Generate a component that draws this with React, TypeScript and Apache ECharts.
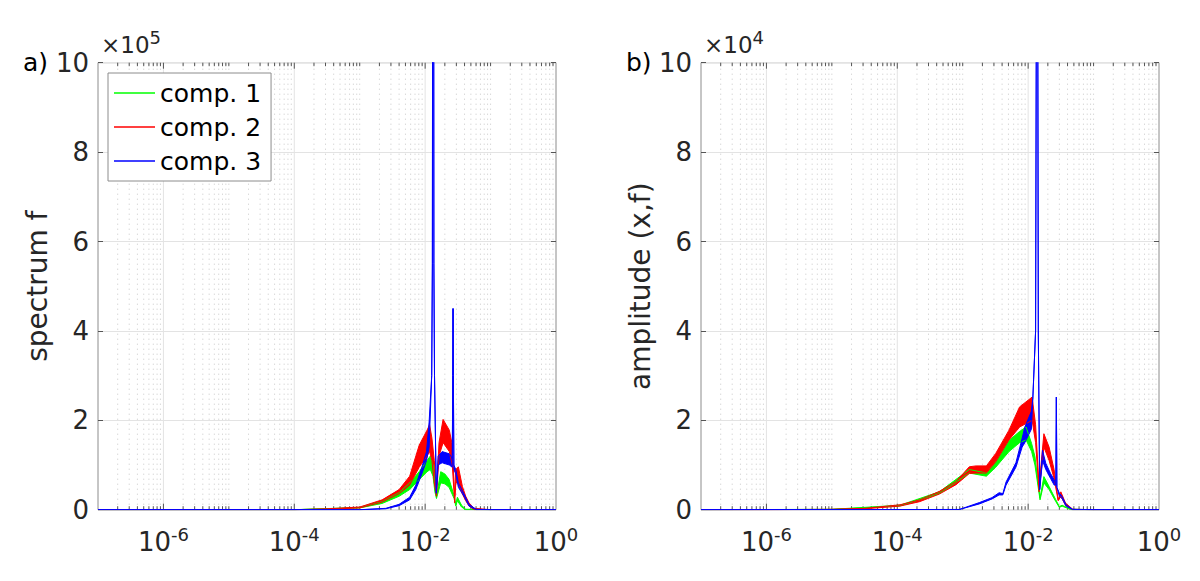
import React, { useEffect, useRef } from "react";
import * as echarts from "echarts";

// ---------------- Panel a) spectrum f (values in units of 1e5) ----------------
const A_C1_F = [1e-7, 1e-4, 1e-3, 2.2e-3, 4.0e-3, 5.8e-3, 8.1e-3, 0.0107, 0.012, 0.0132, 0.0141, 0.0149, 0.0173, 0.02, 0.0232, 0.0277, 0.0294, 0.0311, 0.036, 0.0417, 0.1, 1];
const A_C1_LO = [0, 0, 0.04, 0.14, 0.3, 0.45, 0.67, 0.85, 0.9, 0.75, 0.4, 0.25, 0.6, 0.58, 0.5, 0.25, 0.08, 0.2, 0.06, 0, 0, 0];
const A_C1_HI = [0, 0, 0.05, 0.18, 0.38, 0.6, 0.85, 1.1, 1.2, 1.0, 0.6, 0.3, 0.85, 0.8, 0.68, 0.32, 0.12, 0.28, 0.1, 0.01, 0, 0];

const A_C2_F = [1e-7, 1e-4, 3.2e-4, 1e-3, 2.2e-3, 4.0e-3, 5.8e-3, 8.1e-3, 0.0107, 0.0117, 0.0127, 0.0138, 0.0149, 0.0163, 0.0188, 0.0234, 0.026, 0.0283, 0.0294, 0.0322, 0.0371, 0.0417, 0.0469, 0.0559, 0.1, 1];
const A_C2_LO = [0, 0, 0.01, 0.04, 0.17, 0.36, 0.55, 0.95, 1.2, 1.3, 1.1, 0.6, 0.3, 1.2, 1.5, 1.3, 1.0, 0.15, 0.6, 0.6, 0.35, 0.2, 0.08, 0, 0, 0];
const A_C2_HI = [0, 0, 0.02, 0.06, 0.22, 0.45, 0.75, 1.44, 1.78, 1.9, 1.6, 1.1, 0.4, 1.5, 2.02, 1.78, 1.45, 0.3, 0.9, 0.96, 0.52, 0.3, 0.15, 0.03, 0, 0];

const A_C3_F = [1e-7, 1e-3, 2.5e-3, 4.0e-3, 5.8e-3, 7.2e-3, 8.9e-3, 0.0105, 0.0115, 0.0126, 0.0129, 0.0133, 0.0136, 0.0139, 0.0148, 0.0158, 0.0182, 0.0234, 0.026, 0.0264, 0.0267, 0.027, 0.0275, 0.0294, 0.0322, 0.04, 0.0469, 0.06, 0.1, 1];
const A_C3_LO = [0, 0, 0.02, 0.09, 0.22, 0.45, 0.8, 1.1, 1.4, 3.0, 5.5, 30, 5.5, 3.0, 0.37, 1.0, 1.05, 1.0, 0.95, 3.0, 4.5, 3.0, 0.9, 0.8, 0.5, 0.28, 0.08, 0, 0, 0];
const A_C3_HI = [0, 0, 0.03, 0.12, 0.28, 0.55, 0.95, 1.3, 1.96, 3.0, 5.5, 30, 5.5, 3.0, 0.37, 1.2, 1.3, 1.25, 1.15, 3.0, 4.5, 3.0, 1.0, 0.9, 0.6, 0.33, 0.12, 0.01, 0, 0];

// ---------------- Panel b) amplitude (x,f) (values in units of 1e4) ----------------
const B_C1_F = [1e-7, 1e-5, 1.1e-4, 4.4e-4, 1.26e-3, 2.3e-3, 3.2e-3, 5.1e-3, 7.4e-3, 0.0093, 0.0113, 0.0127, 0.0152, 0.0174, 0.0209, 0.0265, 0.03, 0.033, 0.045, 0.1, 1];
const B_C1_LO = [0, 0.006, 0.085, 0.36, 0.82, 0.75, 0.95, 1.3, 1.5, 1.56, 1.3, 1.0, 0.22, 0.6, 0.45, 0.18, 0.05, 0.08, 0, 0, 0];
const B_C1_HI = [0, 0.008, 0.1, 0.4, 0.9, 0.82, 1.07, 1.55, 1.75, 1.85, 1.48, 1.19, 0.26, 0.74, 0.52, 0.22, 0.07, 0.1, 0.01, 0, 0];

const B_C2_F = [1e-7, 1e-6, 1e-5, 3.2e-5, 1.1e-4, 2.2e-4, 4.4e-4, 7.9e-4, 1.26e-3, 1.6e-3, 2.3e-3, 3.2e-3, 5.1e-3, 7.4e-3, 0.01, 0.0115, 0.013, 0.0147, 0.0174, 0.0209, 0.0249, 0.0288, 0.0316, 0.0372, 0.048, 0.1, 1];
const B_C2_LO = [0, 0, 0.005, 0.02, 0.08, 0.18, 0.35, 0.56, 0.81, 0.82, 0.82, 1.07, 1.56, 1.85, 1.95, 2.0, 1.5, 0.4, 1.4, 1.1, 0.7, 0.2, 0.3, 0.1, 0, 0, 0];
const B_C2_HI = [0, 0, 0.01, 0.03, 0.11, 0.22, 0.41, 0.63, 0.96, 0.98, 0.98, 1.26, 1.78, 2.3, 2.45, 2.52, 1.9, 0.52, 1.7, 1.4, 0.9, 0.22, 0.4, 0.15, 0.01, 0, 0];

const B_C3_F = [1e-7, 8.9e-4, 1.8e-3, 2.8e-3, 3.6e-3, 4.1e-3, 4.6e-3, 6.5e-3, 8.1e-3, 8.9e-3, 0.0112, 0.0118, 0.013, 0.0134, 0.0137, 0.014, 0.0143, 0.015, 0.0166, 0.0186, 0.022, 0.025, 0.0265, 0.027, 0.0275, 0.03, 0.033, 0.038, 0.048, 0.1, 1];
const B_C3_LO = [0, 0.005, 0.13, 0.24, 0.33, 0.33, 0.55, 0.95, 1.4, 1.5, 1.8, 2.5, 4.0, 12, 30, 12, 4.0, 0.45, 1.1, 0.9, 0.7, 0.55, 0.55, 2.52, 0.5, 0.3, 0.25, 0.08, 0, 0, 0];
const B_C3_HI = [0, 0.005, 0.16, 0.27, 0.38, 0.36, 0.62, 1.05, 1.6, 1.85, 2.2, 2.5, 4.0, 12, 30, 12, 4.0, 0.45, 1.33, 1.04, 0.81, 0.67, 0.55, 2.52, 0.5, 0.37, 0.3, 0.11, 0.01, 0, 0];

// ---------------- Labels ----------------
const LEGEND_NAMES = ["comp. 1", "comp. 2", "comp. 3"];
const COLORS = ["#00ff00", "#ff0000", "#0000ff"];
const PANEL_LABELS = ["a)", "b)"];
const Y_NAMES = ["spectrum f", "amplitude (x,f)"];
const Y_EXPONENTS = ["5", "4"];
const X_MIN = 1e-7;
const X_MAX = 1;
const Y_MIN = 0;
const Y_MAX = 10;
const Y_STEP = 2;

const FONT = "DejaVu Sans";
const TEXT = "#262626";
const BOX = "#8c8c8c";

const PANELS = [
  {
    comps: [
      [A_C1_F, A_C1_LO, A_C1_HI],
      [A_C2_F, A_C2_LO, A_C2_HI],
      [A_C3_F, A_C3_LO, A_C3_HI],
    ],
  },
  {
    comps: [
      [B_C1_F, B_C1_LO, B_C1_HI],
      [B_C2_F, B_C2_LO, B_C2_HI],
      [B_C3_F, B_C3_LO, B_C3_HI],
    ],
  },
];

const GRID_LEFT = [98, 701];
const GRID_TOP = 62.7;
const GRID_W = 458;
const GRID_H = 447;

function buildOption() {
  const grids: any[] = [];
  const xAxes: any[] = [];
  const yAxes: any[] = [];
  const series: any[] = [];
  const graphic: any[] = [];

  // minor/major vertical grid positions (log decades)
  const gridVals: number[][] = [];
  for (let k = -7; k <= -1; k++) {
    for (let m = 1; m <= 9; m++) {
      if (k === -7 && m === 1) continue;
      const major = m === 1 && k % 2 === 0 ? 1 : 0;
      gridVals.push([m * Math.pow(10, k), major]);
    }
  }

  PANELS.forEach((p, i) => {
    grids.push({
      left: GRID_LEFT[i],
      top: GRID_TOP,
      width: GRID_W,
      height: GRID_H,
      show: true,
      borderColor: BOX,
      borderWidth: 1,
      backgroundColor: "transparent",
    });
    xAxes.push({
      type: "log",
      logBase: 10,
      gridIndex: i,
      min: X_MIN,
      max: X_MAX,
      axisLine: { show: false },
      axisTick: { show: false },
      splitLine: { show: false },
      axisLabel: {
        margin: 16,
        color: TEXT,
        formatter: (v: number) => {
          const e = Math.round(Math.log10(v));
          return e % 2 === 0 ? `{b|10}{s|${e}}` : "";
        },
        rich: {
          b: { fontSize: 26, fontFamily: FONT, color: TEXT },
          s: { fontSize: 18, fontFamily: FONT, color: TEXT, padding: [0, 0, 15, 0] },
        },
      },
    });
    yAxes.push({
      type: "value",
      gridIndex: i,
      position: "left",
      min: Y_MIN,
      max: Y_MAX,
      interval: Y_STEP,
      axisLine: { show: false },
      axisTick: { show: true, inside: true, length: 5, lineStyle: { color: "#555" } },
      axisLabel: { margin: 9, fontSize: 26, fontFamily: FONT, color: TEXT },
      splitLine: { show: true, lineStyle: { color: "#e3e3e3", width: 1 } },
      name: Y_NAMES[i],
      nameLocation: "middle",
      nameGap: 47,
      nameTextStyle: { fontSize: 28, fontFamily: FONT, color: TEXT },
    });
    yAxes.push({
      type: "value",
      gridIndex: i,
      position: "right",
      min: Y_MIN,
      max: Y_MAX,
      interval: Y_STEP,
      axisLine: { show: false },
      axisTick: { show: true, inside: true, length: 5, lineStyle: { color: "#555" } },
      axisLabel: { show: false },
      splitLine: { show: false },
    });

    // grid lines + log ticks
    series.push({
      type: "custom",
      xAxisIndex: i,
      yAxisIndex: i * 2,
      silent: true,
      data: gridVals,
      encode: { x: 0, y: 1 },
      renderItem: (_params: any, api: any) => {
        const v = api.value(0);
        const major = api.value(1) === 1;
        const b = api.coord([v, Y_MIN]);
        const t = api.coord([v, Y_MAX]);
        const len = major ? 6 : 3.5;
        return {
          type: "group",
          children: [
            {
              type: "line",
              shape: { x1: b[0], y1: b[1], x2: t[0], y2: t[1] },
              style: major
                ? { stroke: "#e3e3e3", lineWidth: 1 }
                : { stroke: "#c8c8c8", lineWidth: 1, lineDash: [1, 4] },
            },
            {
              type: "line",
              shape: { x1: b[0], y1: b[1], x2: b[0], y2: b[1] - len },
              style: { stroke: "#555", lineWidth: 1 },
            },
            {
              type: "line",
              shape: { x1: t[0], y1: t[1], x2: t[0], y2: t[1] + len },
              style: { stroke: "#555", lineWidth: 1 },
            },
          ],
        };
      },
    });

    p.comps.forEach((c, j) => {
      const [F, LO, HI] = c as number[][];
      const color = COLORS[j];
      // filled band between the lower and upper envelopes of the noisy spectrum
      series.push({
        type: "custom",
        name: `_band_${i}_${j}`,
        xAxisIndex: i,
        yAxisIndex: i * 2,
        silent: true,
        data: F.map((f, k) => [f, LO[k], HI[k]]),
        encode: { x: 0, y: [1, 2] },
        renderItem: (params: any, api: any) => {
          if (params.dataIndexInside !== 0) return null;
          const n = params.dataInsideLength;
          const top = params.coordSys.y;
          const up: number[][] = [];
          const dn: number[][] = [];
          for (let k = 0; k < n; k++) {
            const x = api.value(0, k);
            const a = api.coord([x, api.value(2, k)]);
            const b = api.coord([x, api.value(1, k)]);
            up.push([a[0], Math.max(a[1], top)]);
            dn.push([b[0], Math.max(b[1], top)]);
          }
          const pts = up.concat(dn.reverse());
          return { type: "polygon", shape: { points: pts }, style: { fill: color, stroke: null } };
        },
      });
      series.push({
        type: "line",
        name: `_lower_${i}_${j}`,
        xAxisIndex: i,
        yAxisIndex: i * 2,
        data: F.map((f, k) => [f, LO[k]]),
        showSymbol: false,
        symbol: "none",
        silent: true,
        color,
        itemStyle: { color },
        lineStyle: { color, width: 1 },
      });
      series.push({
        type: "line",
        name: LEGEND_NAMES[j],
        xAxisIndex: i,
        yAxisIndex: i * 2,
        data: F.map((f, k) => [f, HI[k]]),
        showSymbol: false,
        symbol: "none",
        silent: true,
        color,
        itemStyle: { color },
        lineStyle: { color, width: 1 },
      });
    });

    graphic.push({
      type: "text",
      x: GRID_LEFT[i] - 75,
      y: GRID_TOP,
      style: {
        text: PANEL_LABELS[i],
        fontSize: 25,
        fontFamily: FONT,
        fill: "#000",
        verticalAlign: "middle",
        textVerticalAlign: "middle",
      },
    });
    graphic.push({
      type: "text",
      x: GRID_LEFT[i] + 3,
      y: GRID_TOP - 18,
      style: {
        text: `{a|×10}{b|${Y_EXPONENTS[i]}}`,
        fill: TEXT,
        verticalAlign: "middle",
        textVerticalAlign: "middle",
        rich: {
          a: { fontSize: 23, fontFamily: FONT, fill: TEXT, color: TEXT },
          b: { fontSize: 18, fontFamily: FONT, fill: TEXT, color: TEXT, padding: [0, 0, 14, 0] },
        },
      },
    });
  });

  return {
    animation: false,
    backgroundColor: "#ffffff",
    grid: grids,
    xAxis: xAxes,
    yAxis: yAxes,
    legend: {
      data: LEGEND_NAMES,
      orient: "vertical",
      left: 108,
      top: 73,
      icon: "rect",
      itemWidth: 41,
      itemHeight: 1.5,
      itemGap: 8,
      padding: [7, 10, 7, 6],
      backgroundColor: "#ffffff",
      borderColor: BOX,
      borderWidth: 1,
      borderRadius: 0,
      selectedMode: false,
      textStyle: { fontSize: 25, fontFamily: FONT, color: "#000", lineHeight: 26 },
    },
    graphic,
    series,
  };
}

export default function App() {
  const ref = useRef<HTMLDivElement>(null);
  useEffect(() => {
    if (!ref.current) return;
    const chart = echarts.init(ref.current, null, { renderer: "svg" });
    chart.setOption(buildOption() as any);
    return () => chart.dispose();
  }, []);
  return (
    <div
      ref={ref}
      style={{ position: "fixed", left: 0, top: 0, width: 1200, height: 581, background: "#fff" }}
    />
  );
}
